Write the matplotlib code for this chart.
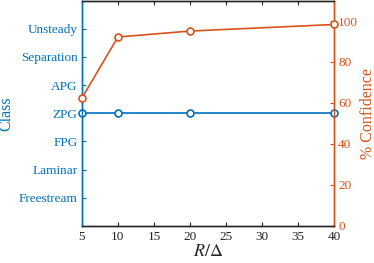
import matplotlib
matplotlib.use('Agg')
import matplotlib.pyplot as plt

# данные
r_delta = [5, 10, 20, 40]
class_names = ['Freestream', 'Laminar', 'FPG', 'ZPG', 'APG', 'Separation', 'Unsteady']
predicted = ['ZPG', 'ZPG', 'ZPG', 'ZPG']
confidence = [62.4, 92.2, 95.1, 98.3]
x_ticks = [5, 10, 15, 20, 25, 30, 35, 40]
conf_ticks = [0, 20, 40, 60, 80, 100]

blue = '#0072BD'
orange = '#D95319'
dark = '#262626'

plt.rcParams['font.family'] = ['Liberation Serif', 'DejaVu Serif']
plt.rcParams['mathtext.fontset'] = 'stix'
plt.rcParams['font.size'] = 9.5

fig = plt.figure(figsize=(3.74, 2.63), dpi=100)
ax1 = fig.add_axes([0.219, 0.141, 0.674, 0.857])
ax2 = ax1.twinx()

# класс (левая ось)
cls_idx = [class_names.index(c) + 1 for c in predicted]
ax1.plot(r_delta, cls_idx, color=blue, lw=1.2, marker='o', ms=5,
         mfc='white', mec=blue, mew=1.2, clip_on=False, zorder=5)
ax1.set_ylim(0, 8)
ax1.set_yticks(range(1, len(class_names) + 1))
ax1.set_yticklabels(class_names)
ax1.set_ylabel('Class', color=blue, labelpad=3, fontsize=11.5)
ax1.tick_params(axis='y', colors=blue, direction='in', length=3, pad=3)

# уверенность (правая ось)
ax2.plot(r_delta, confidence, color=orange, lw=1.2, marker='o', ms=5,
         mfc='white', mec=orange, mew=1.2, clip_on=False, zorder=5)
ax2.set_ylim(0, 110)
ax2.set_yticks(conf_ticks)
ax2.set_ylabel('% Confidence', color=orange, labelpad=1, fontsize=11.5)
ax2.tick_params(axis='y', colors=orange, direction='in', length=3, pad=3)

ax1.set_xlim(5, 40)
ax1.set_xticks(x_ticks)
ax1.set_xlabel(r'$R/\Delta$', color=dark, labelpad=0, fontsize=13)
ax1.tick_params(axis='x', colors=dark, direction='in', length=3, top=True, pad=4)

for ax in (ax1, ax2):
    ax.spines['left'].set_color(blue)
    ax.spines['right'].set_color(orange)
    ax.spines['top'].set_color(dark)
    ax.spines['bottom'].set_color(dark)
    for s in ax.spines.values():
        s.set_linewidth(1.0)

fig.savefig('out.png', dpi=100)
